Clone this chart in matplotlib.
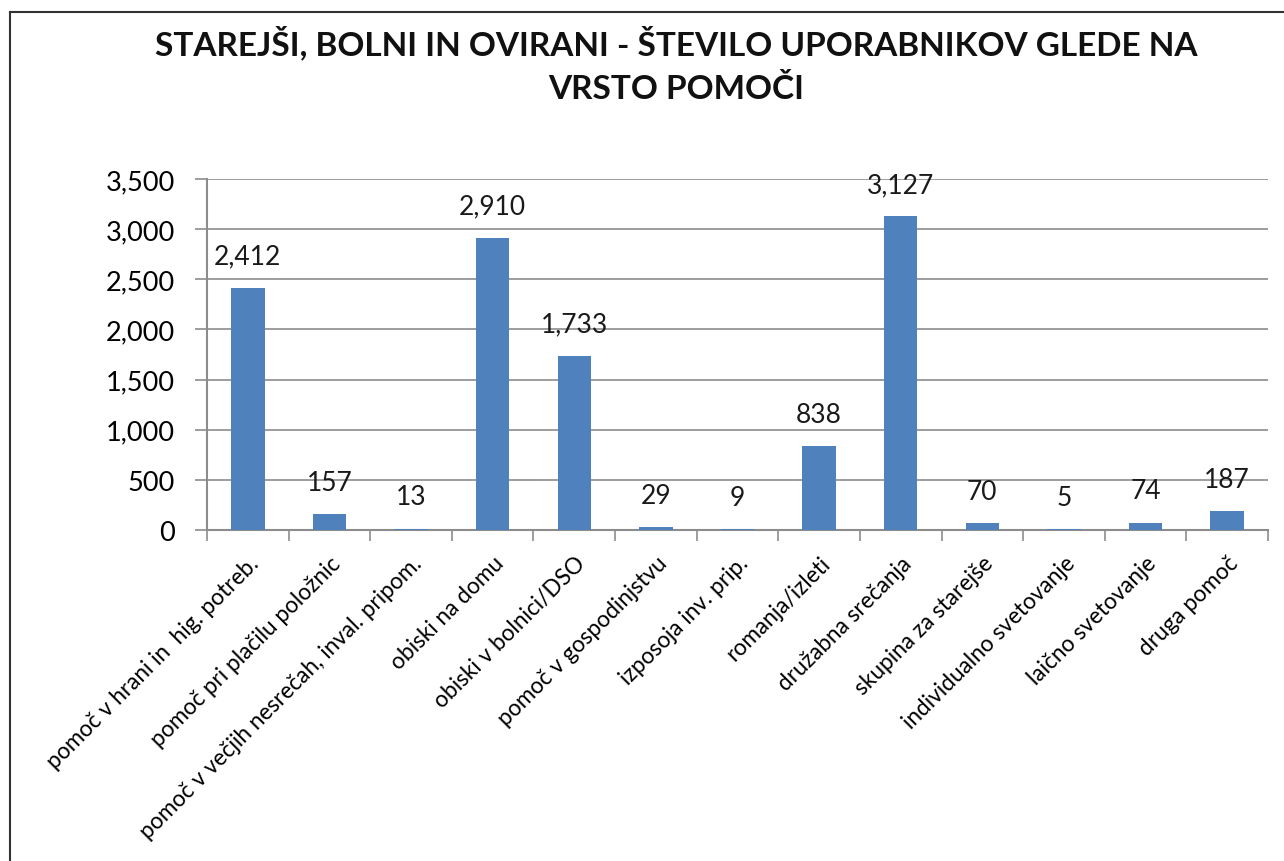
import matplotlib
matplotlib.use("Agg")
import matplotlib.pyplot as plt
from matplotlib.ticker import FuncFormatter, MultipleLocator
from matplotlib.lines import Line2D

categories = [
    "pomoč v hrani in  hig. potreb.",
    "pomoč pri plačilu položnic",
    "pomoč v večjih nesrečah, inval. pripom.",
    "obiski na domu",
    "obiski v bolnici/DSO",
    "pomoč v gospodinjstvu",
    "izposoja inv. prip.",
    "romanja/izleti",
    "družabna srečanja",
    "skupina za starejše",
    "individualno svetovanje",
    "laično svetovanje",
    "druga pomoč",
]
values = [2412, 157, 13, 2910, 1733, 29, 9, 838, 3127, 70, 5, 74, 187]
title = "STAREJŠI, BOLNI IN OVIRANI - ŠTEVILO UPORABNIKOV GLEDE NA\nVRSTO POMOČI"

plt.rcParams['font.family'] = ['Lato', 'DejaVu Sans']

fig = plt.figure(figsize=(12.84, 8.62), dpi=100)
ax = fig.add_axes([207/1284, 1 - 531/862, (1268 - 207)/1284, (531 - 180)/862])

bar_color = "#4f81bd"
grid_color = "#8c8c8c"
x = list(range(len(categories)))
ax.bar(x, values, width=0.41, color=bar_color, zorder=3)

ax.set_xlim(-0.5, len(categories) - 0.5)
ax.set_ylim(0, 3500)
ax.yaxis.set_major_locator(MultipleLocator(500))
ax.yaxis.set_major_formatter(FuncFormatter(lambda v, p: f"{int(v):,}"))
ax.grid(axis='y', color=grid_color, linewidth=1.2, zorder=0)
ax.set_axisbelow(True)

for s in ['top', 'right']:
    ax.spines[s].set_visible(False)
ax.spines['left'].set_color(grid_color)
ax.spines['bottom'].set_color(grid_color)
ax.spines['left'].set_linewidth(1.5)
ax.spines['bottom'].set_linewidth(1.5)

ax.tick_params(axis='y', length=9, width=1.2, color=grid_color, labelsize=19.5, pad=14)
ax.set_xticks([i - 0.5 for i in range(len(categories) + 1)], minor=False)
ax.set_xticklabels([])
ax.tick_params(axis='x', which='major', length=8, width=1.2, color=grid_color)
ax.set_xticks(x, minor=True)
ax.set_xticklabels(categories, minor=True, rotation=45, ha='right',
                   rotation_mode='anchor', fontsize=16.3)
ax.tick_params(axis='x', which='minor', length=0, pad=16)

for xi, v in zip(x, values):
    ax.annotate(f"{v:,}", (xi, v), xytext=(0, 14), textcoords='offset points',
                ha='center', va='bottom', fontsize=19, color='#1a1a1a')

fig.text(0.527, 1 - 26/862, title, ha='center', va='top', fontsize=24,
         fontweight='bold', linespacing=1.55, color='#111111')

# outer frame lines (chart border)
fig.add_artist(Line2D([10/1284, 10/1284], [0, 1 - 13/862], transform=fig.transFigure,
                      color='#333333', linewidth=1.5))
fig.add_artist(Line2D([10/1284, 1], [1 - 13/862, 1 - 13/862], transform=fig.transFigure,
                      color='#333333', linewidth=1.5))

fig.savefig("out.png", dpi=100)
